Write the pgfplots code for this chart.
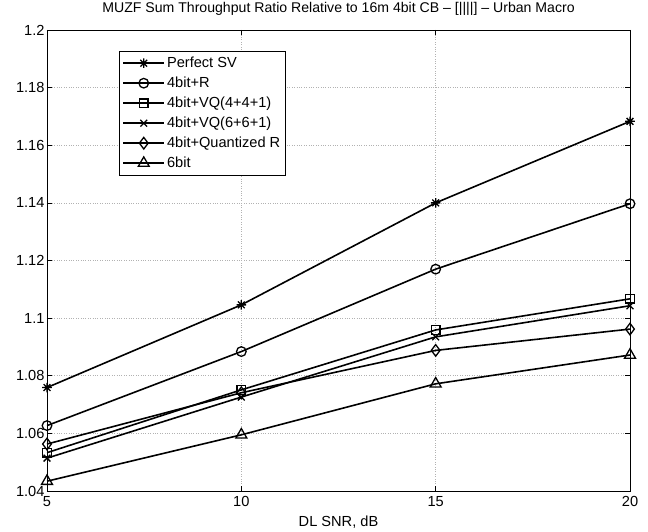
\documentclass[border=0pt]{standalone}
\usepackage{pgfplots}
\pgfplotsset{compat=1.18}
\usepackage{fontspec}
\setmainfont{Liberation Sans}
\pgfdeclareplotmark{mstar}{%
  \pgfpathmoveto{\pgfqpoint{-\pgfplotmarksize}{0pt}}\pgfpathlineto{\pgfqpoint{\pgfplotmarksize}{0pt}}%
  \pgfpathmoveto{\pgfqpoint{0pt}{-\pgfplotmarksize}}\pgfpathlineto{\pgfqpoint{0pt}{\pgfplotmarksize}}%
  \pgfpathmoveto{\pgfqpoint{-.707\pgfplotmarksize}{-.707\pgfplotmarksize}}\pgfpathlineto{\pgfqpoint{.707\pgfplotmarksize}{.707\pgfplotmarksize}}%
  \pgfpathmoveto{\pgfqpoint{-.707\pgfplotmarksize}{.707\pgfplotmarksize}}\pgfpathlineto{\pgfqpoint{.707\pgfplotmarksize}{-.707\pgfplotmarksize}}%
  \pgfusepathqstroke}
\begin{document}
\begin{tikzpicture}
\begin{axis}[
  scale only axis,
  width=583pt, height=461pt,
  xmin=5, xmax=20, ymin=1.04, ymax=1.2,
  xtick={5,10,15,20},
  ytick={1.04,1.06,1.08,1.1,1.12,1.14,1.16,1.18,1.2},
  /pgf/number format/assume math mode=true,
  yticklabel style={/pgf/number format/precision=2, xshift=1pt},
  xticklabel style={yshift=-2pt},
  ticklabel style={font=\fontsize{14.6}{17}\selectfont},
  tick align=inside,
  major tick length=5.5pt,
  tick style={black, line width=0.6pt},
  grid=major,
  grid style={dotted, gray!60, line width=0.7pt},
  axis line style={line width=0.9pt},
  title={MUZF Sum Throughput Ratio Relative to 16m 4bit CB -- [||||] -- Urban Macro},
  title style={font=\fontsize{14.1}{17}\selectfont, at={(axis description cs:0.5,1)}, anchor=base, yshift=11.7pt},
  xlabel={DL SNR, dB},
  xlabel style={font=\fontsize{14.6}{17}\selectfont, at={(axis description cs:0.5,0)}, anchor=base, yshift=-35pt},
  legend style={at={(0.1235,0.955)}, anchor=north west, font=\fontsize{14.6}{17}\selectfont,
    draw=black, line width=0.9pt, inner xsep=3pt, inner ysep=5pt,
    nodes={inner xsep=2pt, inner ysep=0pt, text height=11pt, text depth=3pt},
    row sep=6pt},
  legend cell align=left,
  legend image code/.code={%
    \draw[line width=1.6pt, mark repeat=2, mark phase=2] plot coordinates {(0pt,0pt) (20.5pt,0pt) (41pt,0pt)};},
  every axis plot/.append style={black, line width=1.6pt, mark size=4.8pt, mark options={solid, line width=1.3pt}},
]
\addplot[mark=mstar] coordinates {(5,1.0759) (10,1.1046) (15,1.1400) (20,1.1683)};
\addlegendentry{Perfect SV}
\addplot[mark=o] coordinates {(5,1.0627) (10,1.0884) (15,1.1170) (20,1.1397)};
\addlegendentry{4bit+R}
\addplot[mark=square, mark size=4.3pt] coordinates {(5,1.0533) (10,1.0751) (15,1.0959) (20,1.1067)};
\addlegendentry{4bit+VQ(4+4+1)}
\addplot[mark=x] coordinates {(5,1.0514) (10,1.0726) (15,1.0935) (20,1.1043)};
\addlegendentry{4bit+VQ(6+6+1)}
\addplot[mark=diamond, mark size=5.8pt] coordinates {(5,1.0563) (10,1.0741) (15,1.0888) (20,1.0962)};
\addlegendentry{4bit+Quantized R}
\addplot[mark=triangle, mark size=6.3pt] coordinates {(5,1.0434) (10,1.0595) (15,1.0772) (20,1.0872)};
\addlegendentry{6bit}
\end{axis}
\pgfresetboundingbox
\path (current axis.south west) ++(-47pt,-40pt) rectangle ++(648pt,531pt);
\end{tikzpicture}
\end{document}
